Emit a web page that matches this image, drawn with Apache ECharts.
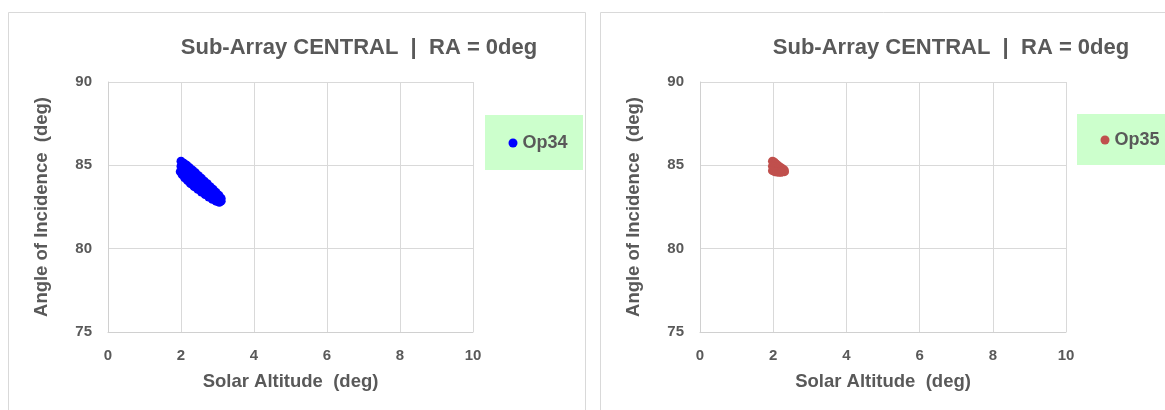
<!DOCTYPE html>
<html>
<head>
<meta charset="utf-8">
<script src="https://cdn.jsdelivr.net/npm/echarts@6/dist/echarts.min.js"></script>
<style>
  html, body { margin: 0; padding: 0; background: #ffffff; }
  #chart { width: 1165px; height: 410px; }
</style>
</head>
<body>
<div id="chart"></div>
<script>
// Labels
const titleText = 'Sub-Array CENTRAL  |  RA = 0deg';
const xAxisName = 'Solar Altitude  (deg)';
const yAxisName = 'Angle of Incidence  (deg)';
const seriesNames = ['Op34', 'Op35'];

// Axis ticks
const altitudeTicks = [0, 2, 4, 6, 8, 10];
const incidenceTicks = [75, 80, 85, 90];

// Op34 samples: solar altitude (deg) and angle of incidence (deg)
const op34Altitude = [
  2.00, 2.08, 2.16, 2.24, 2.32, 2.40, 2.48, 2.56, 2.64, 2.72, 2.80, 2.88, 2.96, 3.04, 3.10,
  2.00, 2.06, 2.14, 2.22, 2.30, 2.38, 2.46, 2.54, 2.62, 2.70, 2.78, 2.86, 2.94, 3.02, 3.10,
  1.98, 2.03, 2.10, 2.18, 2.26, 2.36, 2.46, 2.56, 2.66, 2.76, 2.86, 2.96, 3.05
];
const op34Incidence = [
  85.25, 85.12, 85.00, 84.85, 84.70, 84.55, 84.38, 84.22, 84.05, 83.90, 83.72, 83.56, 83.38, 83.20, 83.02,
  84.95, 84.78, 84.60, 84.45, 84.28, 84.12, 83.96, 83.80, 83.65, 83.50, 83.36, 83.22, 83.08, 82.96, 82.85,
  84.62, 84.45, 84.25, 84.08, 83.90, 83.72, 83.56, 83.40, 83.25, 83.10, 82.96, 82.85, 82.78
];

// Op35 samples
const op35Altitude = [
  1.98, 2.02, 2.06, 2.10, 2.14, 2.18, 2.22, 2.26, 2.30,
  1.98, 2.02, 2.08, 2.14, 2.20, 2.26, 2.31,
  1.98, 2.04, 2.10, 2.16, 2.22
];
const op35Incidence = [
  85.25, 85.20, 85.12, 85.04, 84.96, 84.90, 84.84, 84.78, 84.72,
  84.95, 84.88, 84.80, 84.72, 84.66, 84.62, 84.62,
  84.68, 84.62, 84.60, 84.58, 84.58
];

const pairs = (xs, ys) => xs.map((x, i) => [x, ys[i]]);

const FONT = '"Liberation Sans", Arial, sans-serif';
const TEXT_GREY = '#595959';
const GRID_GREY = '#d9d9d9';

const panels = [
  { gridLeft: 108, gridWidth: 365, titleX: 359, legendX: 508.5, legendY: 134,
    box: { x: 485, y: 115, w: 98, h: 55 }, frame: { x: 8.5, w: 577 },
    name: seriesNames[0], color: '#0000ff', data: pairs(op34Altitude, op34Incidence) },
  { gridLeft: 700, gridWidth: 366, titleX: 951, legendX: 1100.5, legendY: 131,
    box: { x: 1077, y: 114, w: 100, h: 51 }, frame: { x: 600.5, w: 600 },
    name: seriesNames[1], color: '#c0504d', data: pairs(op35Altitude, op35Incidence) }
];

const chart = echarts.init(document.getElementById('chart'), null, { renderer: 'canvas' });

const option = {
  backgroundColor: '#ffffff',
  animation: false,
  textStyle: { fontFamily: FONT },
  graphic: panels.flatMap(p => [
    { type: 'rect', z: -10, silent: true,
      shape: { x: p.frame.x, y: 12.5, width: p.frame.w, height: 420 },
      style: { fill: '#ffffff', stroke: GRID_GREY, lineWidth: 1 } },
    { type: 'rect', z: -5, silent: true,
      shape: { x: p.box.x, y: p.box.y, width: p.box.w, height: p.box.h },
      style: { fill: '#ccffcc' } }
  ]),
  title: panels.map(p => ({
    text: titleText,
    left: p.titleX,
    top: 37,
    padding: 0,
    textAlign: 'center',
    textStyle: { fontFamily: FONT, fontSize: 22, fontWeight: 'bold', color: TEXT_GREY }
  })),
  legend: panels.map((p, i) => ({
    data: [p.name],
    left: p.legendX,
    top: p.legendY,
    padding: 0,
    icon: 'circle',
    itemWidth: 9,
    itemHeight: 9,
    textStyle: { fontFamily: FONT, fontSize: 18, fontWeight: 'bold', color: TEXT_GREY }
  })),
  grid: panels.map(p => ({
    left: p.gridLeft, top: 82, width: p.gridWidth, height: 250, containLabel: false
  })),
  xAxis: panels.map((p, i) => ({
    type: 'value',
    gridIndex: i,
    min: altitudeTicks[0],
    max: altitudeTicks[altitudeTicks.length - 1],
    interval: altitudeTicks[1] - altitudeTicks[0],
    name: xAxisName,
    nameLocation: 'middle',
    nameGap: 40,
    nameTextStyle: { fontFamily: FONT, fontSize: 18.5, fontWeight: 'bold', color: TEXT_GREY },
    axisLine: { show: true, lineStyle: { color: '#d0d0d0', width: 1 } },
    axisTick: { show: false },
    axisLabel: { margin: 16, fontFamily: FONT, fontSize: 15, fontWeight: 'bold', color: TEXT_GREY },
    splitLine: { show: true, lineStyle: { color: GRID_GREY, width: 1 } }
  })),
  yAxis: panels.map((p, i) => ({
    type: 'value',
    gridIndex: i,
    min: incidenceTicks[0],
    max: incidenceTicks[incidenceTicks.length - 1],
    interval: incidenceTicks[1] - incidenceTicks[0],
    name: yAxisName,
    nameLocation: 'middle',
    nameGap: 57,
    nameTextStyle: { fontFamily: FONT, fontSize: 18.5, fontWeight: 'bold', color: TEXT_GREY },
    axisLine: { show: true, lineStyle: { color: '#d0d0d0', width: 1 } },
    axisTick: { show: false },
    axisLabel: { margin: 16, fontFamily: FONT, fontSize: 15, fontWeight: 'bold', color: TEXT_GREY },
    splitLine: { show: true, lineStyle: { color: GRID_GREY, width: 1 } }
  })),
  series: panels.map((p, i) => ({
    type: 'scatter',
    name: p.name,
    xAxisIndex: i,
    yAxisIndex: i,
    symbol: 'circle',
    symbolSize: 9,
    itemStyle: { color: p.color, opacity: 1 },
    data: p.data
  }))
};

chart.setOption(option);
</script>
</body>
</html>
